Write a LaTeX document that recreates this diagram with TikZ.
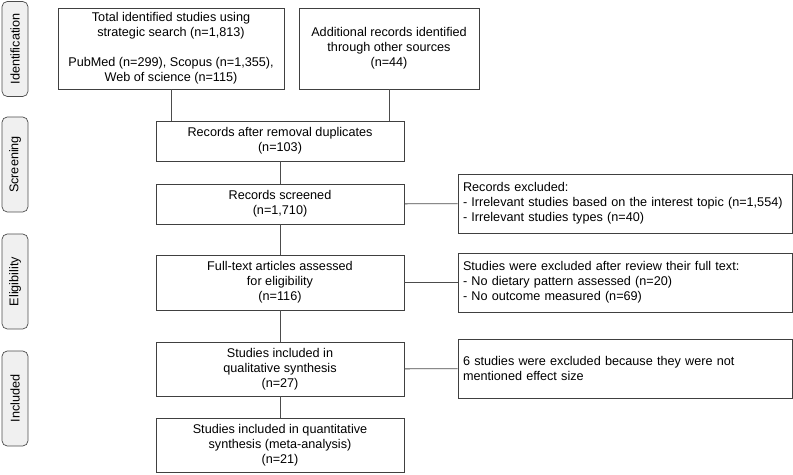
\documentclass[tikz,border=0pt]{standalone}
\usepackage{fontspec}
\setmainfont{Liberation Sans}
\usetikzlibrary{positioning}
\def\px{0.02cm}
\tikzset{
    stage/.style={draw=black!70, fill=black!6, rounded corners=3pt, rotate=90,
        minimum width=95*\px, minimum height=26*\px, inner sep=0pt},
    flowbox/.style={draw=black!75, fill=white, align=center, inner sep=2pt,
        minimum width=248*\px},
    exclbox/.style={draw=black!75, fill=white, align=left, inner ysep=0pt, inner xsep=5*\px,
        text width=324*\px, minimum height=59*\px},
    link/.style={draw=black!70, line width=0.5pt}
}

\begin{document}
\begin{tikzpicture}[x=\px, y=-\px, font=\fontsize{7.2}{8.6}\selectfont]
    \useasboundingbox (0,0) rectangle (793,475);
    % stage labels
    \node[stage] (sIdent) at (15,49) {Identification};
    \node[stage] (sScreen) at (15,164.5) {Screening};
    \node[stage] (sElig) at (15,281.5) {Eligibility};
    \node[stage] (sIncl) at (15,398.5) {Included};
    % main column
    \node[flowbox, minimum width=226*\px, minimum height=81*\px] (total) at (171,48.5)
        {Total identified studies using\\strategic search (n=1,813)\\[8.6pt]PubMed (n=299), Scopus (n=1,355),\\Web of science (n=115)};
    \node[flowbox, minimum width=180*\px, minimum height=81*\px] (other) at (389,48.5)
        {Additional records identified\\through other sources\\(n=44)};
    \node[flowbox, minimum height=40*\px] (dup) at (280,141)
        {Records after removal duplicates\\(n=103)};
    \node[flowbox, minimum height=40*\px] (screened) at (280,204)
        {Records screened\\(n=1,710)};
    \node[flowbox, minimum height=55*\px] (fulltext) at (280,282.5)
        {Full-text articles assessed\\for eligibility\\(n=116)};
    \node[flowbox, minimum height=54*\px] (qual) at (280,369)
        {Studies included in\\qualitative synthesis\\(n=27)};
    \node[flowbox, minimum height=54*\px] (quant) at (280,445)
        {Studies included in quantitative\\synthesis (meta-analysis)\\(n=21)};
    % exclusions
    \node[exclbox] (exA) at (625,203.5)
        {Records excluded:\\- Irrelevant studies based on the interest topic (n=1,554)\\- Irrelevant studies types (n=40)};
    \node[exclbox] (exB) at (625,282.5)
        {Studies were excluded after review their full text:\\- No dietary pattern assessed (n=20)\\- No outcome measured (n=69)};
    \node[exclbox] (exC) at (625,368.5)
        {6 studies were excluded because they were not\\mentioned effect size};
    % links
    \draw[link] (total.south) -- (total.south |- dup.north);
    \draw[link] (other.south) -- (other.south |- dup.north);
    \draw[link] (dup) -- (screened);
    \draw[link] (screened) -- (fulltext);
    \draw[link] (fulltext) -- (qual);
    \draw[link] (qual) -- (quant);
    \draw[link] (screened) -- (exA);
    \draw[link] (fulltext) -- (exB);
    \draw[link] (qual) -- (exC);
\end{tikzpicture}
\end{document}
